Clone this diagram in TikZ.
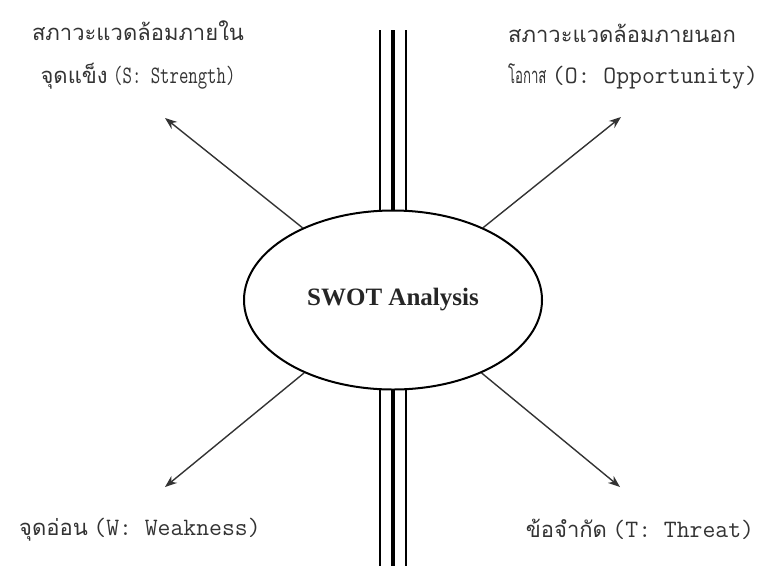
\documentclass[tikz,border=0pt]{standalone}
\usepackage{fontspec}
\setmainfont{Liberation Serif}
\newfontfamily\thaifont[Script=Thai]{Loma}
\newcommand{\thtxt}[1]{{\thaifont #1}}
\newcommand{\lat}[1]{{\ttfamily\fontsize{25}{30}\selectfont #1}}
\usetikzlibrary{shapes.geometric,arrows.meta}
\tikzset{
  lbl/.style={font=\fontsize{22}{26}\selectfont, anchor=base, inner sep=0pt, text=black!80},
  arr/.style={draw=black!80, line width=1.4pt, -{Stealth[length=12pt,width=9pt]}},
  rail/.style={draw=black, line width=2pt},
  railmid/.style={draw=black, line width=3.2pt},
  swot/.style={ellipse, draw=black, line width=2pt, fill=white, minimum width=298pt, minimum height=179pt, inner sep=0pt, font=\bfseries\fontsize{25}{28}\selectfont, text=black!85}
}
\begin{document}
\begin{tikzpicture}[x=1pt,y=-1pt]
\useasboundingbox (0,0) rectangle (767,566);
% vertical rails
\coordinate (r1t) at (380,30); \coordinate (r1b) at (380,566);
\coordinate (r2t) at (393,30); \coordinate (r2b) at (393,566);
\coordinate (r3t) at (405.5,30); \coordinate (r3b) at (405.5,566);
\draw[rail] (r1t) -- (r1b);
\draw[railmid] (r2t) -- (r2b);
\draw[rail] (r3t) -- (r3b);
% ellipse
\node[swot] (e) at (393,300) {SWOT Analysis};
% arrow tips
\coordinate (tl) at (165,118);
\coordinate (tr) at (621,117);
\coordinate (bl) at (165,487);
\coordinate (br) at (620,487);
\draw[arr] (e) -- (tl);
\draw[arr] (e) -- (tr);
\draw[arr] (e) -- (bl);
\draw[arr] (e) -- (br);
% labels
\node[lbl] (s1) at (138,40) {\thtxt{สภาวะแวดล้อมภายใน}};
\node[lbl] (s2) at (138,83) {\thtxt{จุดแข็ง} \scalebox{0.73}[1]{\lat{(S: Strength)}}};
\node[lbl] (o1) at (622,42) {\thtxt{สภาวะแวดล้อมภายนอก}};
\node[lbl] (o2) at (633,83) {\scalebox{0.6}[1]{\thtxt{โอกาส}} \lat{(O: Opportunity)}};
\node[lbl] (w1) at (140,535) {\thtxt{จุดอ่อน} \lat{(W: Weakness)}};
\node[lbl] (t1) at (640,537) {\thtxt{ข้อจำกัด} \lat{(T: Threat)}};
\end{tikzpicture}
\end{document}
